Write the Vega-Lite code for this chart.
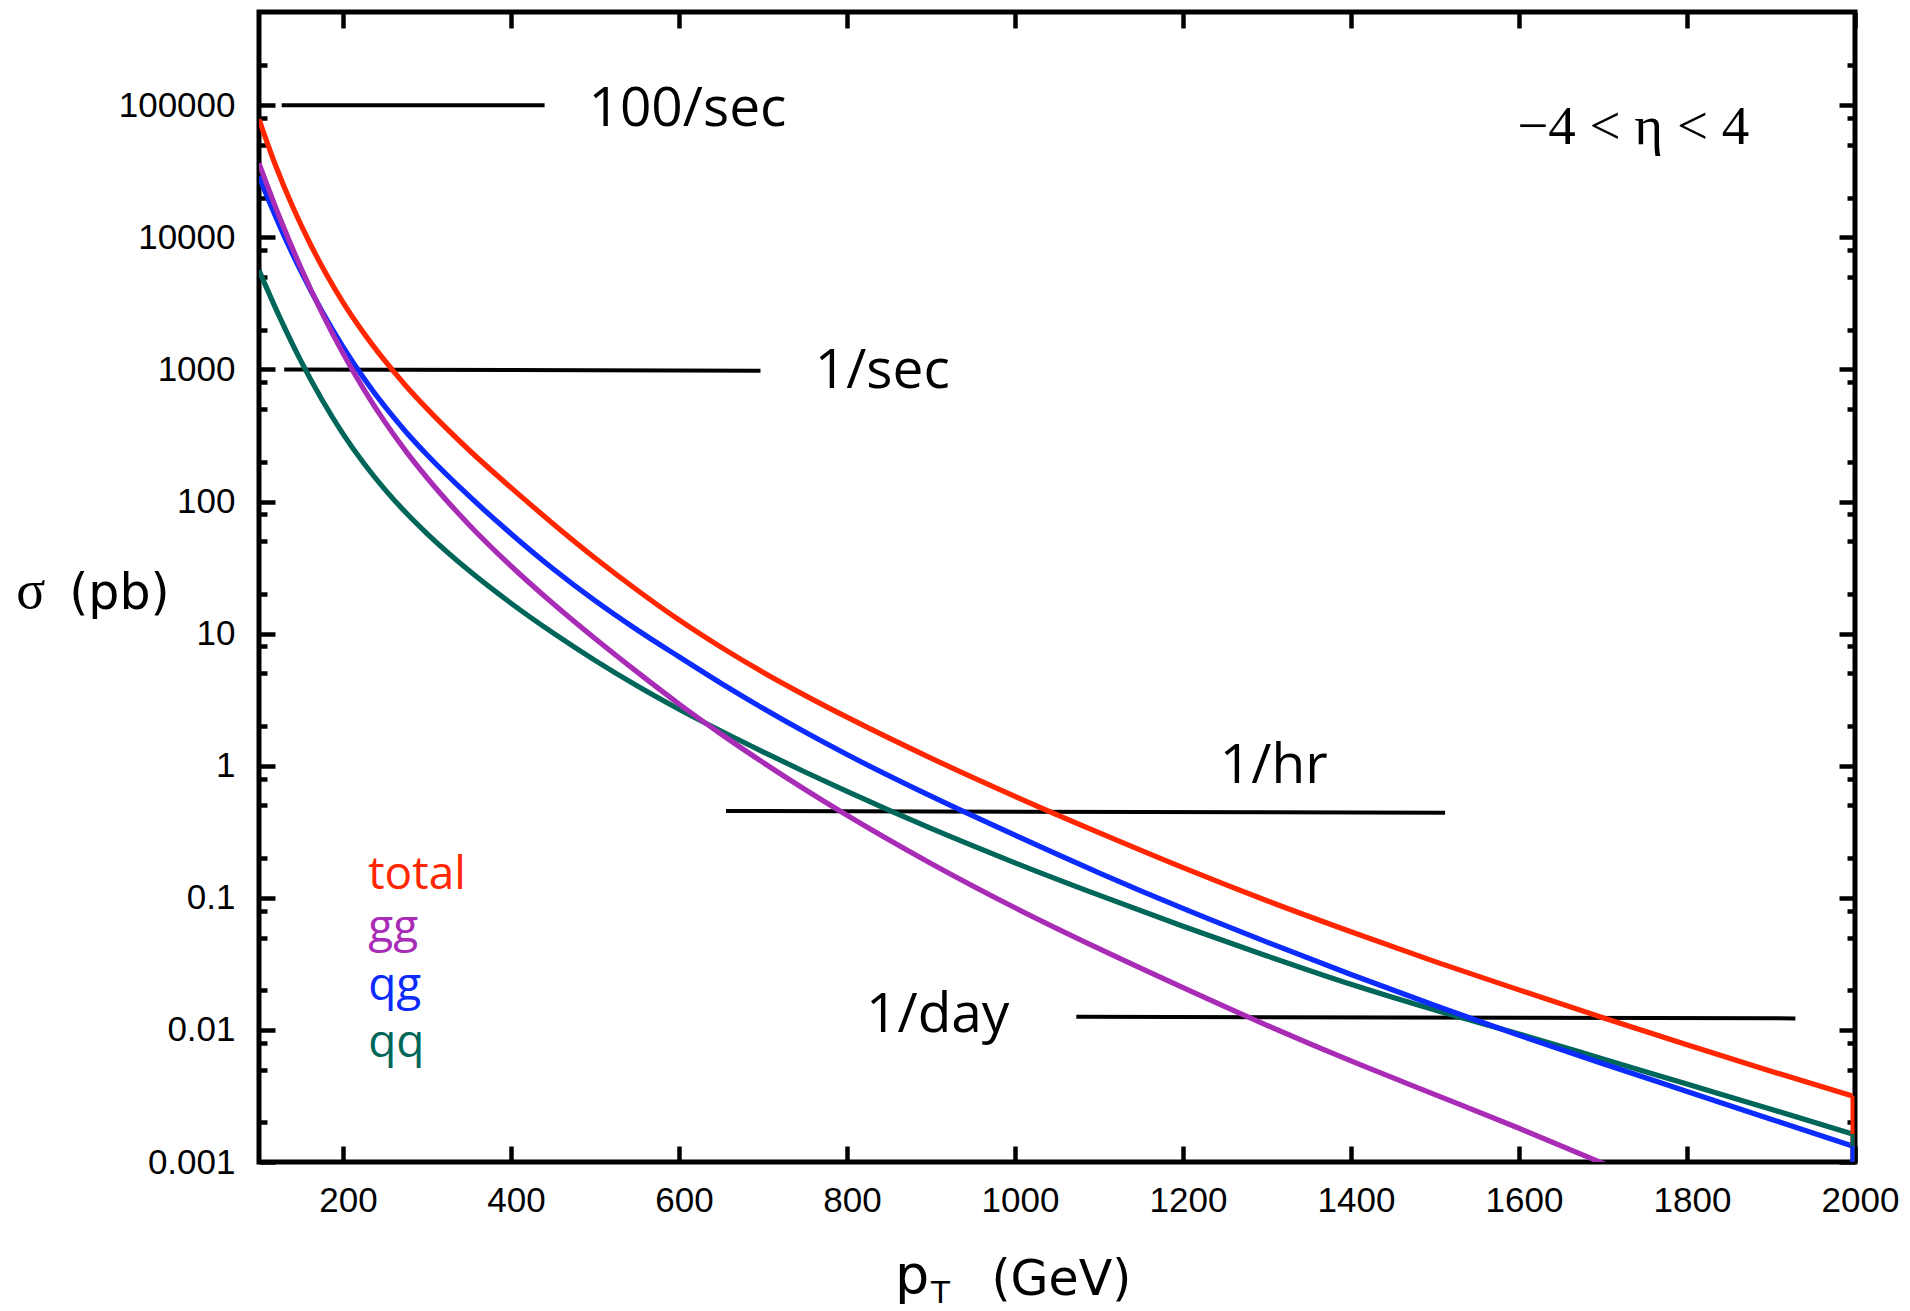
{
  "$schema": "https://vega.github.io/schema/vega-lite/v6.json",
  "width": 1596,
  "height": 1150,
  "autosize": {"type": "none"},
  "padding": {"left": 259, "top": 12, "right": 55, "bottom": 149},
  "background": "white",
  "config": {
    "view": {"stroke": "black", "strokeWidth": 5},
    "axis": {"grid": false, "domain": false, "labelFont": "Liberation Sans", "labelFontSize": 35, "labelColor": "black", "tickColor": "black", "tickWidth": 4.5, "title": null}
  },
  "datasets": {
    "curves": [
      {"pT": 100, "sigma": 78300, "channel": "total"}, {"pT": 120, "sigma": 34670, "channel": "total"}, {"pT": 140, "sigma": 17100, "channel": "total"}, {"pT": 160, "sigma": 9183, "channel": "total"}, {"pT": 180, "sigma": 5272, "channel": "total"}, {"pT": 200, "sigma": 3221, "channel": "total"}, {"pT": 225, "sigma": 1875, "channel": "total"}, {"pT": 250, "sigma": 1159, "channel": "total"}, {"pT": 275, "sigma": 750, "channel": "total"}, {"pT": 300, "sigma": 505, "channel": "total"}, {"pT": 350, "sigma": 245.5, "channel": "total"}, {"pT": 400, "sigma": 127.4, "channel": "total"}, {"pT": 450, "sigma": 68.0, "channel": "total"}, {"pT": 500, "sigma": 37.4, "channel": "total"}, {"pT": 550, "sigma": 21.4, "channel": "total"}, {"pT": 600, "sigma": 12.7, "channel": "total"}, {"pT": 650, "sigma": 7.9, "channel": "total"}, {"pT": 700, "sigma": 5.1, "channel": "total"}, {"pT": 750, "sigma": 3.41, "channel": "total"}, {"pT": 800, "sigma": 2.33, "channel": "total"}, {"pT": 900, "sigma": 1.141, "channel": "total"}, {"pT": 1000, "sigma": 0.586, "channel": "total"}, {"pT": 1100, "sigma": 0.311, "channel": "total"}, {"pT": 1200, "sigma": 0.169, "channel": "total"}, {"pT": 1300, "sigma": 0.095, "channel": "total"}, {"pT": 1400, "sigma": 0.0553, "channel": "total"}, {"pT": 1500, "sigma": 0.0329, "channel": "total"}, {"pT": 1600, "sigma": 0.0201, "channel": "total"}, {"pT": 1700, "sigma": 0.01237, "channel": "total"}, {"pT": 1800, "sigma": 0.00772, "channel": "total"}, {"pT": 1900, "sigma": 0.00487, "channel": "total"}, {"pT": 1997, "sigma": 0.00316, "channel": "total"},
      {"pT": 100, "sigma": 5623, "channel": "qq"}, {"pT": 125, "sigma": 2455, "channel": "qq"}, {"pT": 150, "sigma": 1155, "channel": "qq"}, {"pT": 175, "sigma": 588.8, "channel": "qq"}, {"pT": 200, "sigma": 325.4, "channel": "qq"}, {"pT": 225, "sigma": 193.9, "channel": "qq"}, {"pT": 250, "sigma": 123.0, "channel": "qq"}, {"pT": 275, "sigma": 82.2, "channel": "qq"}, {"pT": 300, "sigma": 57.2, "channel": "qq"}, {"pT": 350, "sigma": 30.0, "channel": "qq"}, {"pT": 400, "sigma": 16.98, "channel": "qq"}, {"pT": 450, "sigma": 10.12, "channel": "qq"}, {"pT": 500, "sigma": 6.273, "channel": "qq"}, {"pT": 550, "sigma": 4.027, "channel": "qq"}, {"pT": 600, "sigma": 2.676, "channel": "qq"}, {"pT": 650, "sigma": 1.83, "channel": "qq"}, {"pT": 700, "sigma": 1.274, "channel": "qq"}, {"pT": 750, "sigma": 0.8964, "channel": "qq"}, {"pT": 800, "sigma": 0.6383, "channel": "qq"}, {"pT": 900, "sigma": 0.335, "channel": "qq"}, {"pT": 1000, "sigma": 0.1841, "channel": "qq"}, {"pT": 1100, "sigma": 0.1047, "channel": "qq"}, {"pT": 1200, "sigma": 0.06095, "channel": "qq"}, {"pT": 1300, "sigma": 0.03631, "channel": "qq"}, {"pT": 1400, "sigma": 0.02213, "channel": "qq"}, {"pT": 1500, "sigma": 0.01413, "channel": "qq"}, {"pT": 1600, "sigma": 0.00933, "channel": "qq"}, {"pT": 1700, "sigma": 0.00603, "channel": "qq"}, {"pT": 1800, "sigma": 0.00389, "channel": "qq"}, {"pT": 1900, "sigma": 0.00251, "channel": "qq"}, {"pT": 1997, "sigma": 0.00163, "channel": "qq"},
      {"pT": 100, "sigma": 28840, "channel": "qg"}, {"pT": 125, "sigma": 12050, "channel": "qg"}, {"pT": 150, "sigma": 5521, "channel": "qg"}, {"pT": 175, "sigma": 2754, "channel": "qg"}, {"pT": 200, "sigma": 1483, "channel": "qg"}, {"pT": 225, "sigma": 855, "channel": "qg"}, {"pT": 250, "sigma": 522, "channel": "qg"}, {"pT": 275, "sigma": 336.5, "channel": "qg"}, {"pT": 300, "sigma": 226.2, "channel": "qg"}, {"pT": 350, "sigma": 110.2, "channel": "qg"}, {"pT": 400, "sigma": 57.1, "channel": "qg"}, {"pT": 450, "sigma": 31.0, "channel": "qg"}, {"pT": 500, "sigma": 17.77, "channel": "qg"}, {"pT": 550, "sigma": 10.7, "channel": "qg"}, {"pT": 600, "sigma": 6.675, "channel": "qg"}, {"pT": 650, "sigma": 4.21, "channel": "qg"}, {"pT": 700, "sigma": 2.72, "channel": "qg"}, {"pT": 750, "sigma": 1.797, "channel": "qg"}, {"pT": 800, "sigma": 1.215, "channel": "qg"}, {"pT": 900, "sigma": 0.588, "channel": "qg"}, {"pT": 1000, "sigma": 0.298, "channel": "qg"}, {"pT": 1100, "sigma": 0.1547, "channel": "qg"}, {"pT": 1200, "sigma": 0.0831, "channel": "qg"}, {"pT": 1300, "sigma": 0.0462, "channel": "qg"}, {"pT": 1400, "sigma": 0.02627, "channel": "qg"}, {"pT": 1500, "sigma": 0.01529, "channel": "qg"}, {"pT": 1600, "sigma": 0.00911, "channel": "qg"}, {"pT": 1700, "sigma": 0.00555, "channel": "qg"}, {"pT": 1800, "sigma": 0.00342, "channel": "qg"}, {"pT": 1900, "sigma": 0.00211, "channel": "qg"}, {"pT": 1997, "sigma": 0.00132, "channel": "qg"},
      {"pT": 100, "sigma": 36310, "channel": "gg"}, {"pT": 125, "sigma": 13930, "channel": "gg"}, {"pT": 150, "sigma": 5861, "channel": "gg"}, {"pT": 175, "sigma": 2679, "channel": "gg"}, {"pT": 200, "sigma": 1324, "channel": "gg"}, {"pT": 225, "sigma": 703, "channel": "gg"}, {"pT": 250, "sigma": 399, "channel": "gg"}, {"pT": 275, "sigma": 239.9, "channel": "gg"}, {"pT": 300, "sigma": 151.4, "channel": "gg"}, {"pT": 350, "sigma": 66.8, "channel": "gg"}, {"pT": 400, "sigma": 32.5, "channel": "gg"}, {"pT": 450, "sigma": 16.89, "channel": "gg"}, {"pT": 500, "sigma": 9.173, "channel": "gg"}, {"pT": 550, "sigma": 5.129, "channel": "gg"}, {"pT": 600, "sigma": 2.934, "channel": "gg"}, {"pT": 650, "sigma": 1.738, "channel": "gg"}, {"pT": 700, "sigma": 1.059, "channel": "gg"}, {"pT": 750, "sigma": 0.661, "channel": "gg"}, {"pT": 800, "sigma": 0.4217, "channel": "gg"}, {"pT": 900, "sigma": 0.182, "channel": "gg"}, {"pT": 1000, "sigma": 0.0841, "channel": "gg"}, {"pT": 1100, "sigma": 0.0412, "channel": "gg"}, {"pT": 1200, "sigma": 0.0209, "channel": "gg"}, {"pT": 1300, "sigma": 0.01084, "channel": "gg"}, {"pT": 1400, "sigma": 0.00582, "channel": "gg"}, {"pT": 1500, "sigma": 0.00324, "channel": "gg"}, {"pT": 1600, "sigma": 0.0018, "channel": "gg"}, {"pT": 1700, "sigma": 0.000977, "channel": "gg"}, {"pT": 1750, "sigma": 0.000716, "channel": "gg"}
    ],
    "drops": [
      {"channel": "total", "x": 1997, "top": 0.00316, "bottom": 0.001},
      {"channel": "qq", "x": 1997, "top": 0.00163, "bottom": 0.001},
      {"channel": "qg", "x": 1997, "top": 0.00132, "bottom": 0.001}
    ],
    "rates": [
      {"rate": "100/sec", "x1": 127, "x2": 440, "y1": 100000, "y2": 100000, "lx": 610, "ly": 69300},
      {"rate": "1/sec", "x1": 130, "x2": 697, "y1": 1000, "y2": 977, "lx": 842, "ly": 729},
      {"rate": "1/hr", "x1": 656, "x2": 1512, "y1": 0.455, "y2": 0.44, "lx": 1308, "ly": 0.741},
      {"rate": "1/day", "x1": 1073, "x2": 1929, "y1": 0.01256, "y2": 0.01222, "lx": 908, "ly": 0.00966}
    ],
    "legend": [
      {"channel": "total", "x": 230, "y": 0.1175},
      {"channel": "gg", "x": 230, "y": 0.0463},
      {"channel": "qg", "x": 230, "y": 0.0168},
      {"channel": "qq", "x": 230, "y": 0.00625}
    ]
  },
  "resolve": {"axis": {"x": "independent", "y": "independent"}},
  "layer": [
    {
      "data": {"name": "rates"},
      "mark": {"type": "rule", "color": "black", "strokeWidth": 4, "strokeCap": "butt"},
      "encoding": {
        "x": {"field": "x1", "type": "quantitative", "scale": {"domain": [100, 2000], "nice": false, "zero": false},
              "axis": {"orient": "bottom", "values": [200, 400, 600, 800, 1000, 1200, 1400, 1600, 1800, 2000], "labels": false, "tickSize": -16, "title": null}},
        "x2": {"field": "x2"},
        "y": {"field": "y1", "type": "quantitative", "scale": {"type": "log", "domain": [0.001, 508000], "nice": false},
              "axis": {"orient": "left", "values": [0.001, 0.01, 0.1, 1, 10, 100, 1000, 10000, 100000], "labels": false, "tickSize": -16, "title": null}},
        "y2": {"field": "y2"}
      }
    },
    {
      "data": {"name": "curves"},
      "mark": {"type": "line", "strokeWidth": 5.2, "interpolate": "monotone", "clip": true},
      "encoding": {
        "x": {"field": "pT", "type": "quantitative", "scale": {"domain": [100, 2000], "nice": false, "zero": false},
              "axis": {"orient": "bottom", "values": [200, 400, 600, 800, 1000, 1200, 1400, 1600, 1800, 2000], "format": "d", "ticks": false, "tickSize": 0, "labelPadding": 21, "labelOffset": 5, "labelFlush": false, "labelOverlap": false, "title": null}},
        "y": {"field": "sigma", "type": "quantitative", "scale": {"type": "log", "domain": [0.001, 508000], "nice": false},
              "axis": {"orient": "left", "values": [0.001, 0.01, 0.1, 1, 10, 100, 1000, 10000, 100000], "format": "~g", "ticks": false, "tickSize": 0, "labelPadding": 24, "labelFlush": false, "labelOverlap": false, "title": null}},
        "color": {"field": "channel", "type": "nominal", "scale": {"domain": ["total", "gg", "qg", "qq"], "range": ["#FF2600", "#A82CB6", "#0C2BFF", "#00665A"]}, "legend": null}
      }
    },
    {
      "data": {"name": "drops"},
      "mark": {"type": "rule", "strokeWidth": 4, "strokeCap": "butt"},
      "encoding": {
        "x": {"field": "x", "type": "quantitative", "scale": {"domain": [100, 2000], "nice": false, "zero": false}, "axis": null},
        "y": {"field": "top", "type": "quantitative", "scale": {"type": "log", "domain": [0.001, 508000], "nice": false}, "axis": null},
        "y2": {"field": "bottom"},
        "color": {"field": "channel", "type": "nominal", "scale": {"domain": ["total", "gg", "qg", "qq"], "range": ["#FF2600", "#A82CB6", "#0C2BFF", "#00665A"]}, "legend": null}
      }
    },
    {
      "data": {"name": "rates"},
      "mark": {"type": "text", "font": "Open Sans", "fontSize": 55, "align": "center", "baseline": "alphabetic", "color": "black"},
      "encoding": {
        "x": {"field": "lx", "type": "quantitative", "scale": {"domain": [100, 2000], "nice": false, "zero": false},
              "axis": {"orient": "top", "values": [200, 400, 600, 800, 1000, 1200, 1400, 1600, 1800, 2000], "labels": false, "tickSize": -16, "title": null}},
        "y": {"field": "ly", "type": "quantitative", "scale": {"type": "log", "domain": [0.001, 508000], "nice": false},
              "axis": {"orient": "right", "values": [0.001, 0.01, 0.1, 1, 10, 100, 1000, 10000, 100000], "labels": false, "tickSize": -16, "title": null}},
        "text": {"field": "rate"}
      }
    },
    {
      "data": {"name": "legend"},
      "mark": {"type": "text", "font": "Open Sans", "fontSize": 46, "align": "left", "baseline": "alphabetic"},
      "encoding": {
        "x": {"field": "x", "type": "quantitative", "scale": {"domain": [100, 2000], "nice": false, "zero": false}, "axis": null},
        "y": {"field": "y", "type": "quantitative", "scale": {"type": "log", "domain": [0.001, 508000], "nice": false},
              "axis": {"orient": "left", "values": [0.002, 0.005, 0.008, 0.02, 0.05, 0.08, 0.2, 0.5, 0.8, 2, 5, 8, 20, 50, 80, 200, 500, 800, 2000, 5000, 8000, 20000, 50000, 80000, 200000], "labels": false, "tickSize": -8, "title": null}},
        "text": {"field": "channel"},
        "color": {"field": "channel", "type": "nominal", "scale": {"domain": ["total", "gg", "qg", "qq"], "range": ["#FF2600", "#A82CB6", "#0C2BFF", "#00665A"]}, "legend": null}
      }
    },
    {
      "data": {"values": [{"label": "−4 < η < 4", "x": 1736, "y": 50700}]},
      "mark": {"type": "text", "font": "Liberation Serif", "fontSize": 55, "align": "center", "baseline": "alphabetic", "color": "black"},
      "encoding": {
        "x": {"field": "x", "type": "quantitative", "scale": {"domain": [100, 2000], "nice": false, "zero": false}, "axis": null},
        "y": {"field": "y", "type": "quantitative", "scale": {"type": "log", "domain": [0.001, 508000], "nice": false},
              "axis": {"orient": "right", "values": [0.002, 0.005, 0.008, 0.02, 0.05, 0.08, 0.2, 0.5, 0.8, 2, 5, 8, 20, 50, 80, 200, 500, 800, 2000, 5000, 8000, 20000, 50000, 80000, 200000], "labels": false, "tickSize": -8, "title": null}},
        "text": {"field": "label"}
      }
    },
    {
      "data": {"values": [{"label": "σ", "x": -189, "y": 15.6}]},
      "mark": {"type": "text", "font": "Liberation Serif", "fontSize": 54, "align": "left", "baseline": "alphabetic", "color": "black"},
      "encoding": {
        "x": {"field": "x", "type": "quantitative", "scale": {"domain": [100, 2000], "nice": false, "zero": false}, "axis": null},
        "y": {"field": "y", "type": "quantitative", "scale": {"type": "log", "domain": [0.001, 508000], "nice": false}, "axis": null},
        "text": {"field": "label"}
      }
    },
    {
      "data": {"values": [{"label": "(pb)", "x": -126, "y": 15.3}, {"label": "(GeV)", "x": 972, "y": 0.0000981}]},
      "mark": {"type": "text", "font": "DejaVu Sans", "fontSize": 49, "align": "left", "baseline": "alphabetic", "color": "black"},
      "encoding": {
        "x": {"field": "x", "type": "quantitative", "scale": {"domain": [100, 2000], "nice": false, "zero": false}, "axis": null},
        "y": {"field": "y", "type": "quantitative", "scale": {"type": "log", "domain": [0.001, 508000], "nice": false}, "axis": null},
        "text": {"field": "label"}
      }
    },
    {
      "data": {"values": [{"label": "p", "x": 857, "y": 0.0001016}]},
      "mark": {"type": "text", "font": "DejaVu Sans", "fontSize": 54, "align": "left", "baseline": "alphabetic", "color": "black"},
      "encoding": {
        "x": {"field": "x", "type": "quantitative", "scale": {"domain": [100, 2000], "nice": false, "zero": false}, "axis": null},
        "y": {"field": "y", "type": "quantitative", "scale": {"type": "log", "domain": [0.001, 508000], "nice": false}, "axis": null},
        "text": {"field": "label"}
      }
    },
    {
      "data": {"values": [{"label": "T", "x": 900, "y": 0.0000853}]},
      "mark": {"type": "text", "font": "DejaVu Sans", "fontSize": 31, "align": "left", "baseline": "alphabetic", "color": "black"},
      "encoding": {
        "x": {"field": "x", "type": "quantitative", "scale": {"domain": [100, 2000], "nice": false, "zero": false}, "axis": null},
        "y": {"field": "y", "type": "quantitative", "scale": {"type": "log", "domain": [0.001, 508000], "nice": false}, "axis": null},
        "text": {"field": "label"}
      }
    }
  ]
}
